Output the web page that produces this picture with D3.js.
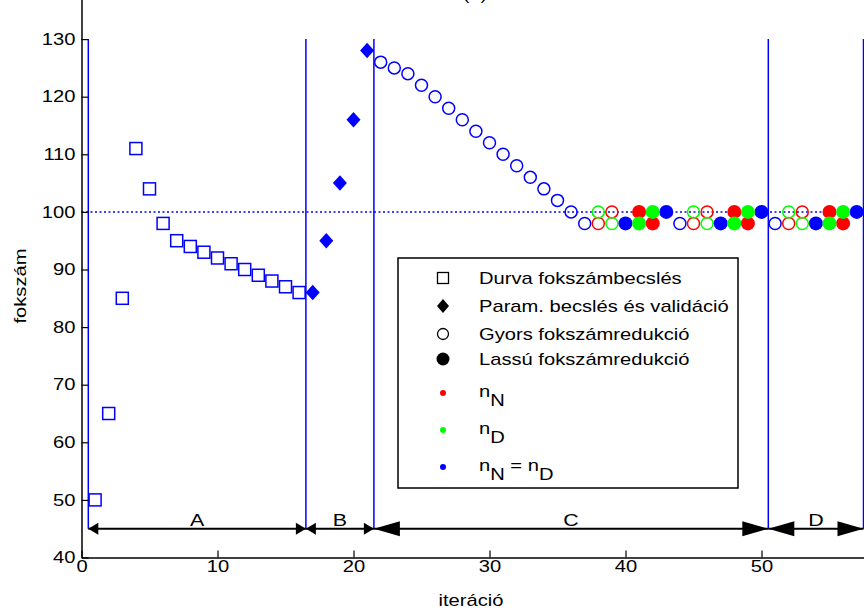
<!DOCTYPE html>
<html>
<head>
<meta charset="utf-8">
<script src="https://cdn.jsdelivr.net/npm/d3@7"></script>
<style>
  body { margin: 0; background: #fff; }
  svg { display: block; font-family: "Liberation Sans", Arial, sans-serif; }
</style>
</head>
<body>
<svg id="chart" width="864" height="612"></svg>
<script>
// Durva fokszámbecslés (squares)
const durvaX = [1, 2, 3, 4, 5, 6, 7, 8, 9, 10, 11, 12, 13, 14, 15, 16];
const durvaY = [50, 65, 85, 111, 104, 98, 95, 94, 93, 92, 91, 90, 89, 88, 87, 86];
// Param. becslés és validáció (diamonds)
const paramX = [17, 18, 19, 20, 21];
const paramY = [86, 95, 105, 116, 128];
// Gyors fokszámredukció (open circles)
const gyorsBlueX = [22, 23, 24, 25, 26, 27, 28, 29, 30, 31, 32, 33, 34, 35, 36, 37, 44, 51];
const gyorsBlueY = [126, 125, 124, 122, 120, 118, 116, 114, 112, 110, 108, 106, 104, 102, 100, 98, 98, 98];
const gyorsRedX = [38, 39, 45, 46, 52, 53];
const gyorsRedY = [98, 100, 98, 100, 98, 100];
const gyorsGreenX = [38, 39, 45, 46, 52, 53];
const gyorsGreenY = [100, 98, 100, 98, 100, 98];
// Lassú fokszámredukció (filled circles)
const lassuBlueX = [40, 43, 47, 50, 54, 57];
const lassuBlueY = [98, 100, 98, 100, 98, 100];
const lassuRedX = [41, 42, 48, 49, 55, 56];
const lassuRedY = [100, 98, 100, 98, 100, 98];
const lassuGreenX = [41, 42, 48, 49, 55, 56];
const lassuGreenY = [98, 100, 98, 100, 98, 100];

const refLevel = 100;
const phaseBounds = [0.5, 16.5, 21.5, 50.5, 57.5];
const phaseLabels = ['A', 'B', 'C', 'D'];
const arrowLevel = 45;
const lineTop = 130;

const xTicks = [0, 10, 20, 30, 40, 50];
const yTicks = [40, 50, 60, 70, 80, 90, 100, 110, 120, 130];

const legendLabels = ['Durva fokszámbecslés', 'Param. becslés és validáció', 'Gyors fokszámredukció', 'Lassú fokszámredukció'];

const BLUE = '#0000ff', RED = '#ff0000', GREEN = '#00ff00';
const SX = 1.26; // text in the original is drawn a bit wide

const svg = d3.select('#chart');
const x = d3.scaleLinear().domain([0, 57.5]).range([81.5, 863.5]);
const y = d3.scaleLinear().domain([40, 140]).range([557.5, -18.5]);

const zip = (xs, ys) => xs.map((v, i) => [v, ys[i]]);
const diamond = (cx, cy, w, h) => `M${cx},${cy - h / 2}L${cx + w / 2},${cy}L${cx},${cy + h / 2}L${cx - w / 2},${cy}Z`;

// widen a text horizontally around its anchor point
function stretch(sel, extra = '') {
  sel.each(function () {
    const t = d3.select(this);
    const tx = +t.attr('x') || 0, ty = +t.attr('y') || 0;
    t.attr('x', 0).attr('y', 0).attr('transform', `translate(${tx},${ty})${extra} scale(${SX},1)`);
  });
  return sel;
}

// title (cut off at the top)
stretch(svg.append('text').attr('x', 475).attr('y', -0.5).attr('text-anchor', 'middle')
  .attr('font-size', 16).text('(b)'));

// reference level
svg.append('line')
  .attr('x1', x(0)).attr('x2', x(57.5))
  .attr('y1', y(refLevel)).attr('y2', y(refLevel))
  .attr('stroke', BLUE).attr('stroke-width', 1.5).attr('stroke-dasharray', '2,2.5');

// phase boundaries
svg.selectAll('line.bound').data(phaseBounds).join('line')
  .attr('class', 'bound')
  .attr('x1', d => x(d)).attr('x2', d => x(d))
  .attr('y1', y(lineTop)).attr('y2', y(arrowLevel))
  .attr('stroke', BLUE).attr('stroke-width', 1.5);

// squares
svg.selectAll('rect.durva').data(zip(durvaX, durvaY)).join('rect')
  .attr('class', 'durva')
  .attr('x', d => x(d[0]) - 6).attr('y', d => y(d[1]) - 6)
  .attr('width', 12).attr('height', 12)
  .attr('fill', 'none').attr('stroke', BLUE).attr('stroke-width', 1.5);

// diamonds
svg.selectAll('path.param').data(zip(paramX, paramY)).join('path')
  .attr('class', 'param')
  .attr('d', d => diamond(x(d[0]), y(d[1]), 14, 15.5))
  .attr('fill', BLUE);

// open circles
[[gyorsBlueX, gyorsBlueY, BLUE], [gyorsRedX, gyorsRedY, RED], [gyorsGreenX, gyorsGreenY, GREEN]]
  .forEach(([xs, ys, col]) => {
    svg.append('g').selectAll('circle').data(zip(xs, ys)).join('circle')
      .attr('cx', d => x(d[0])).attr('cy', d => y(d[1])).attr('r', 6)
      .attr('fill', 'none').attr('stroke', col).attr('stroke-width', 1.5);
  });

// filled circles
[[lassuBlueX, lassuBlueY, BLUE], [lassuRedX, lassuRedY, RED], [lassuGreenX, lassuGreenY, GREEN]]
  .forEach(([xs, ys, col]) => {
    svg.append('g').selectAll('circle').data(zip(xs, ys)).join('circle')
      .attr('cx', d => x(d[0])).attr('cy', d => y(d[1])).attr('r', 7)
      .attr('fill', col);
  });

// phase arrows
const headLen = [10, 10, 26, 26];
const headHalf = [6, 6, 7.5, 7.5];
const ay = y(arrowLevel);
phaseLabels.forEach((lab, i) => {
  const x0 = x(phaseBounds[i]), x1 = x(phaseBounds[i + 1]);
  const L = headLen[i], H = headHalf[i];
  svg.append('line').attr('x1', x0).attr('x2', x1).attr('y1', ay).attr('y2', ay)
    .attr('stroke', '#000').attr('stroke-width', 2);
  svg.append('path').attr('d', `M${x0},${ay}L${x0 + L},${ay - H}L${x0 + L},${ay + H}Z`).attr('fill', '#000');
  svg.append('path').attr('d', `M${x1},${ay}L${x1 - L},${ay - H}L${x1 - L},${ay + H}Z`).attr('fill', '#000');
  stretch(svg.append('text').attr('x', (x0 + x1) / 2).attr('y', ay - 3)
    .attr('text-anchor', 'middle').attr('font-size', 17).text(lab));
});

// axes
const yAxis = svg.append('g').attr('transform', `translate(${x(0)},0)`)
  .call(d3.axisLeft(y).tickValues(yTicks).tickSizeInner(-7).tickSizeOuter(0).tickPadding(6));
const xAxis = svg.append('g').attr('transform', `translate(0,${y(40)})`)
  .call(d3.axisBottom(x).tickValues(xTicks).tickSizeInner(-7).tickSizeOuter(0).tickPadding(3));
[yAxis, xAxis].forEach(a => {
  a.attr('font-family', null).attr('font-size', null);
  a.select('.domain').attr('stroke', '#000').attr('stroke-width', 1.5);
  a.selectAll('.tick line').attr('stroke', '#000').attr('stroke-width', 1.2);
  stretch(a.selectAll('.tick text').attr('fill', '#000').attr('font-size', 16));
});

stretch(svg.append('text').attr('x', 471).attr('y', 606).attr('text-anchor', 'middle')
  .attr('font-size', 16).text('iteráció'));
stretch(svg.append('text').attr('x', 26).attr('y', 286).attr('text-anchor', 'middle')
  .attr('font-size', 16).text('fokszám'), ' rotate(-90)');

// legend
const lg = svg.append('g');
lg.append('rect').attr('x', 398).attr('y', 258).attr('width', 340).attr('height', 230)
  .attr('fill', '#fff').attr('stroke', '#000').attr('stroke-width', 1.5);
const mx = 443, tx = 479;
const rowY = [278, 306, 334, 359, 393, 430, 467];
lg.append('rect').attr('x', mx - 5.5).attr('y', rowY[0] - 5.5).attr('width', 11).attr('height', 11)
  .attr('fill', 'none').attr('stroke', '#000').attr('stroke-width', 1.3);
lg.append('path').attr('d', diamond(mx, rowY[1], 12, 14)).attr('fill', '#000');
lg.append('circle').attr('cx', mx).attr('cy', rowY[2]).attr('r', 5.5)
  .attr('fill', 'none').attr('stroke', '#000').attr('stroke-width', 1.3);
lg.append('circle').attr('cx', mx).attr('cy', rowY[3]).attr('r', 6.5).attr('fill', '#000');
[RED, GREEN, BLUE].forEach((c, i) => {
  lg.append('circle').attr('cx', mx).attr('cy', rowY[4 + i]).attr('r', 3).attr('fill', c);
});
legendLabels.forEach((t, i) => {
  stretch(lg.append('text').attr('x', tx).attr('y', rowY[i] + 6).attr('font-size', 16).text(t));
});
const subRow = (row, parts) => {
  const t = lg.append('text').attr('x', tx).attr('y', rowY[row] + 4).attr('font-size', 16);
  parts.forEach(([s, dy]) => t.append('tspan').attr('dy', dy).text(s));
  stretch(t);
};
subRow(4, [['n', 0], ['N', 9]]);
subRow(5, [['n', 0], ['D', 9]]);
subRow(6, [['n', 0], ['N', 9], [' = n', -9], ['D', 9]]);
</script>
</body>
</html>
